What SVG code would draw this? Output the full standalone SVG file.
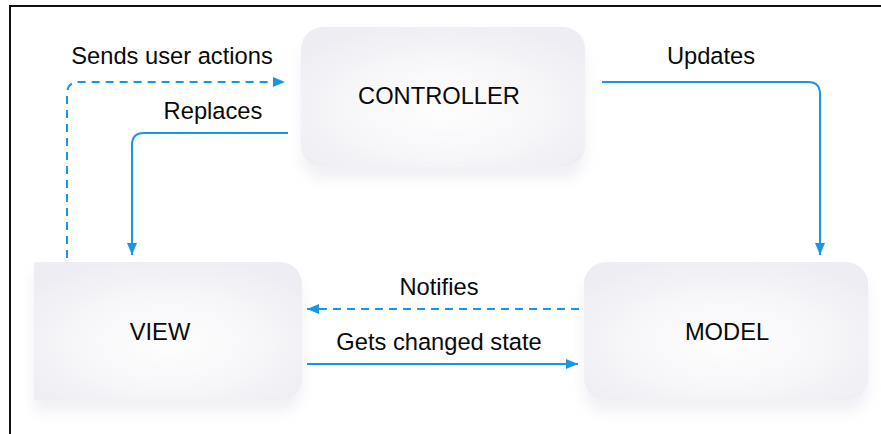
<svg xmlns="http://www.w3.org/2000/svg" width="881" height="434" viewBox="0 0 881 434">
  <style>
    .lbl { font-family: "Liberation Sans", Arial, sans-serif; font-size: 23.7px; fill: #0a0a0a; text-anchor: middle; }
    .box { fill: url(#boxFill); filter: url(#soft); }
    .wire { fill: none; stroke: #1796e6; stroke-width: 2; }
    .dash { stroke-dasharray: 8 6; }
  </style>
  <defs>
    <radialGradient id="boxFill" cx="50%" cy="58%" r="62%">
      <stop offset="0" stop-color="#fefefe"/>
      <stop offset="0.6" stop-color="#f6f6f9"/>
      <stop offset="1" stop-color="#ededf3"/>
    </radialGradient>
    <filter id="soft" x="-15%" y="-15%" width="130%" height="150%">
      <feDropShadow dx="0" dy="12" stdDeviation="7" flood-color="#d4d4e4" flood-opacity="0.35"/>
    </filter>
    <marker id="head" viewBox="0 0 12 10" refX="12" refY="5" markerWidth="12" markerHeight="10" markerUnits="userSpaceOnUse" orient="auto">
      <path d="M0,0 L12,5 L0,10 Z" fill="#1796e6"/>
    </marker>
  </defs>

  <rect width="881" height="434" fill="#ffffff"/>
  <!-- outer frame -->
  <rect x="10" y="6" width="900" height="480" fill="none" stroke="#111" stroke-width="2"/>

  <g id="controller">
    <rect class="box" x="301" y="27" width="284" height="140" rx="22"/>
    <text class="lbl" x="439" y="104">CONTROLLER</text>
  </g>

  <g id="view">
    <path class="box" d="M34,262 H280 A22,22 0 0 1 302,284 V378 A22,22 0 0 1 280,400 H34 Z"/>
    <text class="lbl" x="160" y="340">VIEW</text>
  </g>

  <g id="model">
    <rect class="box" x="584" y="262" width="284" height="138" rx="22"/>
    <text class="lbl" x="727" y="340">MODEL</text>
  </g>

  <g id="connectors">
    <path class="wire dash" d="M67,258 V94 Q67,82 79,82 H285" marker-end="url(#head)"/>
    <path class="wire" d="M288,133 H144 Q132,133 132,145 V255" marker-end="url(#head)"/>
    <path class="wire" d="M602,82 H808 Q820,82 820,94 V255" marker-end="url(#head)"/>
    <path class="wire dash" d="M579,309 H307" marker-end="url(#head)"/>
    <path class="wire" d="M307,364 H578" marker-end="url(#head)"/>

    <text class="lbl" x="172" y="64">Sends user actions</text>
    <text class="lbl" x="213" y="119">Replaces</text>
    <text class="lbl" x="711" y="64">Updates</text>
    <text class="lbl" x="439" y="295">Notifies</text>
    <text class="lbl" x="439" y="350">Gets changed state</text>
  </g>
</svg>
